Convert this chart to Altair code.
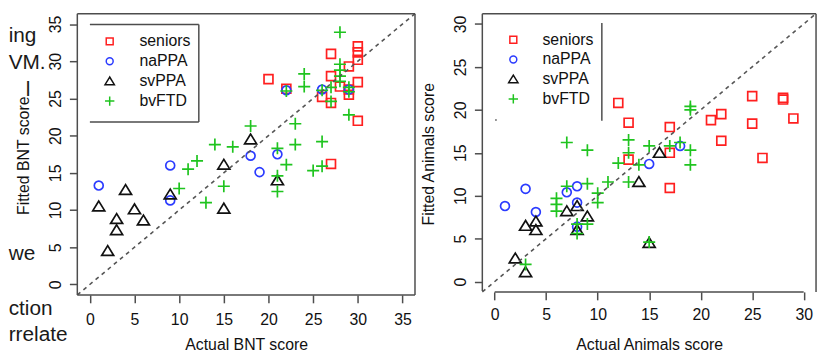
import altair as alt
import pandas as pd

GROUPS = ["seniors", "naPPA", "svPPA", "bvFTD"]
COLORS = ["#ff1f1f", "#2b3bff", "#111111", "#1fc41f"]
SHAPES = ["square", "circle", "M0,-1.2L-1.35,1L1.35,1Z", "M-1.35,0H1.35M0,-1.35V1.35"]

# ---- Boston Naming Test (left panel) ----
bnt_seniors_x = [20, 22, 26, 27, 27, 27, 27, 28, 29, 29, 29, 30, 30, 30, 30, 30]
bnt_seniors_y = [27.6, 26.3, 25.2, 31.0, 28.0, 24.4, 16.2, 26.6, 29.3, 25.5, 26.2, 32.0, 31.2, 30.2, 27.2, 22.0]
bnt_na_x = [1, 9, 9, 18, 19, 21, 22, 26, 29]
bnt_na_y = [13.3, 16.0, 11.3, 17.3, 15.1, 17.5, 26.1, 26.2, 26.2]
bnt_sv_x = [1, 2, 3, 3, 4, 5, 6, 9, 15, 15, 18, 21]
bnt_sv_y = [10.5, 4.5, 8.8, 7.3, 12.7, 10.1, 8.6, 12.1, 16.1, 10.2, 19.5, 14.0]
bnt_bv_x = [28, 24, 24, 22, 26, 28, 28, 28, 28, 27, 27, 29, 29, 23, 18, 14, 16, 12, 11, 10,
            13, 15, 21, 21, 21, 22, 23, 26, 25, 26, 29]
bnt_bv_y = [33.9, 28.3, 26.6, 26.0, 26.1, 29.6, 28.8, 28.0, 27.3, 26.5, 24.6, 25.9, 22.8, 21.6,
            21.3, 18.8, 18.5, 16.6, 15.5, 12.9, 11.0, 13.2, 18.3, 14.6, 12.5, 16.1, 18.8, 19.2,
            15.3, 15.9, 26.5]

# ---- Animals fluency (right panel) ----
ani_seniors_x = [12, 13, 13, 17, 17, 17, 21, 22, 22, 25, 25, 26, 28, 28, 29]
ani_seniors_y = [20.8, 18.5, 14.2, 18.0, 15.0, 10.9, 18.8, 19.5, 16.4, 21.6, 18.4, 14.4, 21.2, 21.4, 19.0]
ani_na_x = [1, 3, 4, 7, 8, 8, 8, 15, 18]
ani_na_y = [8.8, 10.8, 8.1, 10.4, 11.1, 9.2, 6.4, 13.7, 15.8]
ani_sv_x = [2, 3, 3, 4, 4, 7, 8, 8, 9, 14, 16, 15]
ani_sv_y = [2.7, 1.1, 6.5, 7.0, 6.0, 8.2, 8.8, 6.0, 7.6, 11.6, 15.0, 4.5]
ani_bv_x = [3, 6, 6, 6, 7, 7, 9, 9, 9, 8, 8, 10, 10, 11, 12, 13, 13, 13, 14, 15, 15, 17, 18,
            19, 19, 19, 19]
ani_bv_y = [2.0, 9.7, 9.0, 8.2, 16.2, 11.1, 15.3, 11.4, 6.7, 6.7, 5.6, 10.3, 9.2, 11.6, 13.8,
            16.5, 15.0, 11.6, 13.6, 15.8, 4.6, 15.8, 16.2, 20.4, 20.0, 15.3, 13.6]

BNT_TICKS = [0, 5, 10, 15, 20, 25, 30, 35]
ANI_TICKS = [0, 5, 10, 15, 20, 25, 30]

# cropped running text of the page, left of the figure
FRAGMENTS = ["ing", "VM.", "l", "we", "ction", "rrelate"]

FONT = "Liberation Sans"
GRAY = "#4d4d4d"
INK = "#111111"


def frame(parts):
    rows = []
    for g, xs, ys in parts:
        for a, b in zip(xs, ys):
            rows.append({"actual": a, "fitted": b, "group": g})
    return pd.DataFrame(rows)


bnt = frame([("seniors", bnt_seniors_x, bnt_seniors_y), ("naPPA", bnt_na_x, bnt_na_y),
             ("svPPA", bnt_sv_x, bnt_sv_y), ("bvFTD", bnt_bv_x, bnt_bv_y)])
ani = frame([("seniors", ani_seniors_x, ani_seniors_y), ("naPPA", ani_na_x, ani_na_y),
             ("svPPA", ani_sv_x, ani_sv_y), ("bvFTD", ani_bv_x, ani_bv_y)])


def one():
    return alt.Data(values=[{}])


def rule(x, x2, y, y2):
    return alt.Chart(one()).mark_rule(color=GRAY, strokeWidth=1.5).encode(
        x=alt.value(x), x2=alt.value(x2), y=alt.value(y), y2=alt.value(y2))


def panel(df, dom, ticks, w, h, xtitle, ytitle, xlabpad, xtitley, leg):
    sx = alt.Scale(domain=dom, nice=False, zero=False)
    sy = alt.Scale(domain=dom, nice=False, zero=False)
    common = dict(grid=False, domain=False, tickSize=8, tickColor=GRAY, tickWidth=1.5,
                  labelFont=FONT, labelFontSize=16, labelColor=INK, labelFlush=False,
                  labelOverlap=False, titleFont=FONT, titleFontSize=16,
                  titleFontWeight="normal", titleColor=INK, titleBaseline="alphabetic",
                  titleAlign="center")
    xaxis = alt.Axis(values=ticks, title=xtitle, labelBaseline="alphabetic",
                     labelPadding=xlabpad, titleX=w / 2, titleY=xtitley, **common)
    yaxis = alt.Axis(values=ticks, title=ytitle, labelAngle=-90, labelAlign="center",
                     labelBaseline="alphabetic", labelPadding=9, titleAngle=270,
                     titleX=-49.5, titleY=h / 2 + 1, **common)
    legend = alt.Legend(title=None, orient="none", legendX=leg["x"], legendY=leg["y"],
                        padding=0, symbolSize=49, symbolStrokeWidth=1.5,
                        labelFont=FONT, labelFontSize=16, labelColor=INK,
                        labelOffset=leg["lo"], rowPadding=leg["rp"])
    pts = alt.Chart(df).mark_point(filled=False, size=81, strokeWidth=1.7, opacity=1).encode(
        x=alt.X("actual:Q", scale=sx, axis=xaxis),
        y=alt.Y("fitted:Q", scale=sy, axis=yaxis),
        color=alt.Color("group:N", scale=alt.Scale(domain=GROUPS, range=COLORS), legend=legend),
        shape=alt.Shape("group:N", scale=alt.Scale(domain=GROUPS, range=SHAPES), legend=legend),
    )
    diag = alt.Chart(pd.DataFrame({"v": dom})).mark_line(
        color="#555555", strokeWidth=1.6, strokeDash=[4, 4]).encode(
        x=alt.X("v:Q", scale=sx), y=alt.Y("v:Q", scale=sy))
    return pts, diag


W1, H1 = 341, 284
W2, H2 = 337, 281

pts1, diag1 = panel(bnt, [-1.4, 36.4], BNT_TICKS, W1, H1, "Actual BNT score",
                    "Fitted BNT score", 21.5, 55.3,
                    {"x": 24.7, "y": 20, "lo": 22, "rp": 4.1})
pts2, diag2 = panel(ani, [-1.2, 31.2], ANI_TICKS, W2, H2, "Actual Animals score",
                    "Fitted Animals score", 19.8, 58.5,
                    {"x": 23.3, "y": 18.4, "lo": 21.4, "rp": 3.9})

# left panel: full box + legend box (top, right, bottom)
box1 = [rule(0, W1, 0, 0), rule(0, W1, H1, H1), rule(0, 0, 0, H1), rule(W1, W1, 0, H1)]
legbox1 = [rule(12.7, 122.7, 11, 11), rule(122.7, 122.7, 11, 109.3), rule(12.7, 122.7, 109.3, 109.3)]

frag_pos = [(-69.3, 28.3), (-69.3, 56), (-52, 83), (-69.3, 248.3), (-69.3, 304), (-69.3, 331)]
frags = [alt.Chart(one()).mark_text(text=t, font=FONT, fontSize=21, color="#1a1a1a",
                                     align="left", baseline="alphabetic").encode(
             x=alt.value(px), y=alt.value(py)) for t, (px, py) in zip(FRAGMENTS, frag_pos)]

left = alt.layer(pts1, diag1, *box1, *legbox1, *frags).properties(width=W1, height=H1)

# right panel: box without bottom, axis line from 0 to 30, legend right border only
box2 = [rule(0, W2, 0, 0), rule(0, 0, 0, H2 - 1), rule(W2, W2, 0, H2)]
axisline2 = alt.Chart(pd.DataFrame({"a": [ANI_TICKS[0]], "b": [ANI_TICKS[-1]]})).mark_rule(
    color=GRAY, strokeWidth=1.5).encode(
    x=alt.X("a:Q", scale=alt.Scale(domain=[-1.2, 31.2], nice=False, zero=False)),
    x2="b:Q", y=alt.value(H2))
legbox2 = [rule(120.7, 120.7, 9.5, 108.2), rule(13, 14.5, 107.5, 107.5)]

right = alt.layer(pts2, diag2, *box2, axisline2, *legbox2).properties(width=W2, height=H2)

chart = alt.hconcat(left, right, spacing=68, bounds="flush").resolve_scale(
    color="independent", shape="independent").resolve_legend(
    color="independent", shape="independent").properties(
    padding={"left": 0, "top": 0, "right": 0, "bottom": 0}).configure_view(stroke=None)

chart.save("out.html", embed_options={"renderer": "svg", "actions": False})
